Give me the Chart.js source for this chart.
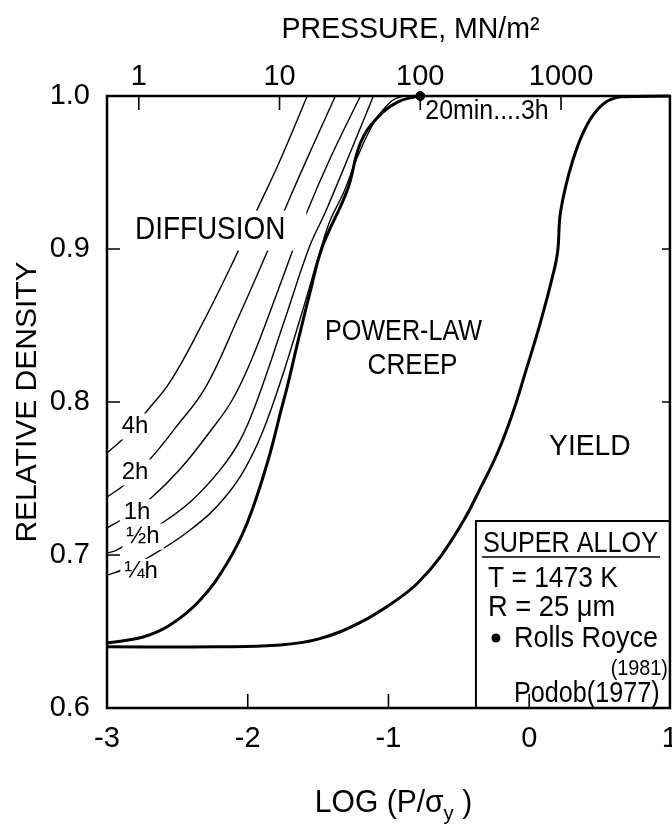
<!DOCTYPE html>
<html><head><meta charset="utf-8">
<script src="https://cdn.jsdelivr.net/npm/chart.js@4/dist/chart.umd.min.js"></script>
<style>html,body{margin:0;padding:0;background:#fff;overflow:hidden}canvas{display:block}</style>
</head><body>
<canvas id="c" width="692" height="834"></canvas>
<script>
const FONT = "'Liberation Sans','Arial',sans-serif";

// axes
const xTicks = [-3, -2, -1, 0, 1];            // log10(P / sigma_y)
const yTicks = [0.6, 0.7, 0.8, 0.9, 1.0];     // relative density
const pressureTicks = [1, 10, 100, 1000];     // MN/m^2 (top axis)
const logSigmaY = 2.774;                      // log10 of yield stress, MN/m^2

// diffusion curves [log(P/sigma_y), relative density]
const curve4h = [[-3.0,0.7667],[-2.858,0.7784],[-2.722,0.7935],[-2.552,0.8131],[-2.338,0.8484],[-2.125,0.8876],[-1.947,0.9229],[-1.769,0.9582],[-1.577,1.0]];
const curve2h = [[-3.0,0.7379],[-2.879,0.7458],[-2.687,0.7634],[-2.509,0.7837],[-2.302,0.8092],[-2.075,0.8536],[-1.847,0.9013],[-1.698,0.9340],[-1.541,0.9667],[-1.377,1.0]];
const curve1h = [[-3.0,0.7176],[-2.879,0.7242],[-2.687,0.7373],[-2.480,0.7562],[-2.281,0.7791],[-2.110,0.8013],[-1.968,0.8288],[-1.826,0.8627],[-1.690,0.8967],[-1.591,0.9216],[-1.413,0.9595],[-1.199,1.0]];
const curveHalf = [[-3.0,0.7013],[-2.929,0.7033],[-2.630,0.7196],[-2.409,0.7346],[-2.196,0.7556],[-2.053,0.7752],[-1.932,0.8013],[-1.733,0.8549],[-1.562,0.9013],[-1.448,0.9242],[-1.270,0.9634],[-1.107,1.0]];
const curveQuarter = [[-3.0,0.6869],[-2.893,0.6902],[-2.701,0.6987],[-2.409,0.7163],[-2.160,0.7379],[-1.968,0.7654],[-1.811,0.8013],[-1.626,0.8549],[-1.477,0.9013],[-1.413,0.9190],[-1.320,0.9366],[-1.221,0.9600],[-1.100,0.9830],[-0.980,0.9965],[-0.900,1.0]];
// mechanism boundaries
const creepCurve = [[-3.0,0.6425],[-2.744,0.6464],[-2.552,0.6542],[-2.338,0.6706],[-2.146,0.6948],[-2.004,0.7209],[-1.861,0.7601],[-1.762,0.7950],[-1.719,0.8100],[-1.633,0.8435],[-1.555,0.8725],[-1.470,0.9013],[-1.292,0.9386],[-1.199,0.9693],[-1.078,0.9860],[-0.936,0.9960],[-0.794,1.0]];
const yieldCurve = [[-3.0,0.640],[-2.2,0.640],[-1.8,0.641],[-1.5,0.645],[-1.2,0.656],[-0.936,0.671],[-0.794,0.6815],[-0.630,0.6990],[-0.466,0.7225],[-0.345,0.7440],[-0.224,0.7670],[-0.120,0.7920],[-0.025,0.8200],[0.080,0.8520],[0.174,0.8850],[0.203,0.8990],[0.224,0.925],[0.310,0.958],[0.416,0.982],[0.530,0.995],[0.651,0.9995],[1.0,1.0]];
// experimental point: Rolls Royce (1981)  [pressure MN/m^2, relative density]
const rollsRoyce = [[100, 1.0]];

// annotations (data coordinates)
const regionText = ['DIFFUSION', 'POWER-LAW', 'CREEP', 'YIELD', '20min....3h'];
const regionX = [-2.267, -0.893, -0.829, 0.431, -0.300];
const regionY = [0.912, 0.846, 0.824, 0.771, 0.990];
const hourText = ['4h', '2h', '1h', '½h', '¼h'];
const hourX = [-2.801, -2.801, -2.786, -2.744, -2.758];
const hourY = [0.784, 0.754, 0.728, 0.712, 0.689];
const topTitle = 'PRESSURE, MN/m²';
const legendTitle = 'SUPER ALLOY';
const legendLines = ['T = 1473 K', 'R = 25 μm'];
const legendPoint = 'Rolls Royce';
const legendPointYear = '(1981)';
const legendCurve = 'Podob(1977)';

const toXY = arr => arr.map(([x, y]) => ({x, y}));
const line = (arr, w) => ({data: toXY(arr), borderColor: '#000', borderWidth: w, pointRadius: 0, fill: false, tension: 0.4, clip: 3});

// horizontally condensed text (lettering of the original is narrow)
function txt(ctx, s, x, y, size, sx, align) {
  ctx.save();
  ctx.font = `${size}px ${FONT}`;
  ctx.translate(x, y); ctx.scale(sx, 1);
  ctx.textAlign = align || 'left';
  ctx.fillText(s, 0, 0);
  ctx.restore();
}
function tw(ctx, s, size, sx) { ctx.save(); ctx.font = `${size}px ${FONT}`; const w = ctx.measureText(s).width * sx; ctx.restore(); return w; }

const regionStyle = [[31, 0.9], [30, 0.84], [30, 0.87], [30, 0.94], [28, 0.89]];

const deco = {
  id: 'deco',
  afterDatasetsDraw(chart) {
    const {ctx, chartArea: a, scales} = chart;
    const X = scales.x, Y = scales.y, P = scales.x2;
    ctx.save();
    ctx.fillStyle = '#000'; ctx.textBaseline = 'middle';
    // region labels
    regionText.forEach((t, i) => {
      const px = X.getPixelForValue(regionX[i]), py = Y.getPixelForValue(regionY[i]);
      const [size, sx] = regionStyle[i];
      const w = tw(ctx, t, size, sx);
      if (i === 0) { ctx.fillStyle = '#fff'; ctx.fillRect(px - w/2 - 8, py - 20, w + 29, 40); ctx.fillStyle = '#000'; }
      txt(ctx, t, px, py, size, sx, 'center');
    });
    hourText.forEach((t, i) => {
      const px = X.getPixelForValue(hourX[i]), py = Y.getPixelForValue(hourY[i]);
      const w = tw(ctx, t, 24, 1);
      ctx.fillStyle = '#fff'; ctx.fillRect(px - w/2 - 4, py - 13, w + 8, 26);
      ctx.fillStyle = '#000'; txt(ctx, t, px, py, 24, 1, 'center');
    });
    ctx.textBaseline = 'alphabetic';
    // top axis title
    txt(ctx, topTitle, (a.left + a.right) / 2 + 22, 38, 30, 0.95, 'center');
    // bottom axis title with subscript
    const t1 = 'LOG (P/σ', t2 = 'y', t3 = ' )';
    const w1 = tw(ctx, t1, 31, 0.97), w2 = tw(ctx, t2, 21, 0.97), w3 = tw(ctx, t3, 31, 0.97);
    let sx = (a.left + a.right) / 2 + 5 - (w1 + w2 + w3) / 2;
    const by0 = 812;
    txt(ctx, t1, sx, by0, 31, 0.97); sx += w1;
    txt(ctx, t2, sx, by0 + 8, 21, 0.97); sx += w2;
    txt(ctx, t3, sx, by0, 31, 0.97);
    // legend box
    const bx = a.right - 194, bt = a.bottom - 187;
    ctx.fillStyle = '#fff'; ctx.fillRect(bx, bt, a.right - bx, a.bottom - bt);
    ctx.strokeStyle = '#000'; ctx.lineWidth = 2;
    ctx.beginPath(); ctx.moveTo(bx, a.bottom); ctx.lineTo(bx, bt); ctx.lineTo(a.right, bt); ctx.stroke();
    ctx.fillStyle = '#000';
    txt(ctx, legendTitle, bx + 7, bt + 31, 30, 0.84);
    ctx.lineWidth = 1.5; ctx.beginPath(); ctx.moveTo(bx + 6, bt + 36); ctx.lineTo(a.right - 10, bt + 36); ctx.stroke();
    txt(ctx, legendLines[0], bx + 12, bt + 66, 30, 0.88);
    txt(ctx, legendLines[1], bx + 12, bt + 95, 30, 0.91);
    ctx.beginPath(); ctx.arc(bx + 20, bt + 117, 4.5, 0, Math.PI * 2); ctx.fill();
    txt(ctx, legendPoint, bx + 38, bt + 126, 30, 0.9);
    txt(ctx, legendPointYear, a.right - 2, bt + 154, 22, 0.9, 'right');
    txt(ctx, legendCurve, bx + 38, bt + 181, 30, 0.84);
    // frame
    ctx.lineWidth = 2.5; ctx.strokeStyle = '#000';
    ctx.strokeRect(a.left, a.top, a.right - a.left, a.bottom - a.top);
    // inward tick marks
    ctx.lineWidth = 1.6;
    ctx.beginPath();
    xTicks.slice(1, -1).forEach(v => { const p = X.getPixelForValue(v); ctx.moveTo(p, a.bottom); ctx.lineTo(p, a.bottom - 14); });
    pressureTicks.forEach(v => { const p = P.getPixelForValue(Math.log10(v)); ctx.moveTo(p, a.top); ctx.lineTo(p, a.top + 14); });
    yTicks.slice(1, -1).forEach(v => { const p = Y.getPixelForValue(v); ctx.moveTo(a.left, p); ctx.lineTo(a.left + 13, p);
      if (p < bt) { ctx.moveTo(a.right, p); ctx.lineTo(a.right - 8, p); } });
    ctx.stroke();
    ctx.restore();
  }
};

new Chart(document.getElementById('c'), {
  type: 'line',
  data: {
    datasets: [
      line(curve4h, 1.4), line(curve2h, 1.4), line(curve1h, 1.4), line(curveHalf, 1.4), line(curveQuarter, 1.4),
      line(creepCurve, 3), line(yieldCurve, 3),
      {type: 'scatter', data: rollsRoyce.map(([p, d]) => ({x: Math.log10(p) - logSigmaY, y: d})), pointRadius: 4.5,
       backgroundColor: '#000', borderColor: '#000', clip: false}
    ]
  },
  options: {
    responsive: false, animation: false, devicePixelRatio: 1,
    layout: {padding: 0},
    plugins: {legend: {display: false}, tooltip: {enabled: false}},
    scales: {
      x: {type: 'linear', position: 'bottom', min: -3, max: 1,
          afterBuildTicks: s => { s.ticks = xTicks.map(v => ({value: v})); },
          ticks: {font: {family: FONT, size: 29}, color: '#000', padding: 14, maxRotation: 0, autoSkip: false, callback: v => String(v)},
          grid: {display: false, drawTicks: false}, border: {display: false},
          afterFit: s => { s.height = 126; }},
      x2: {type: 'linear', position: 'top', min: -3 + logSigmaY, max: 1 + logSigmaY,
          afterBuildTicks: s => { s.ticks = pressureTicks.map(p => ({value: Math.log10(p)})); },
          ticks: {font: {family: FONT, size: 29}, color: '#000', padding: 2, maxRotation: 0, autoSkip: false, callback: v => String(Math.round(Math.pow(10, v)))},
          grid: {display: false, drawTicks: false}, border: {display: false},
          afterFit: s => { s.height = 96; }},
      y: {type: 'linear', min: 0.6, max: 1.0,
          afterBuildTicks: s => { s.ticks = yTicks.map(v => ({value: v})); },
          ticks: {font: {family: FONT, size: 29}, color: '#000', padding: 17, callback: v => v.toFixed(1)},
          grid: {display: false, drawTicks: false}, border: {display: false},
          title: {display: true, text: 'RELATIVE DENSITY', font: {family: FONT, size: 30}, color: '#000', padding: {top: 10, bottom: 0}},
          afterFit: s => { s.width = 107; }}
    }
  },
  plugins: [deco]
});
</script>
</body></html>
